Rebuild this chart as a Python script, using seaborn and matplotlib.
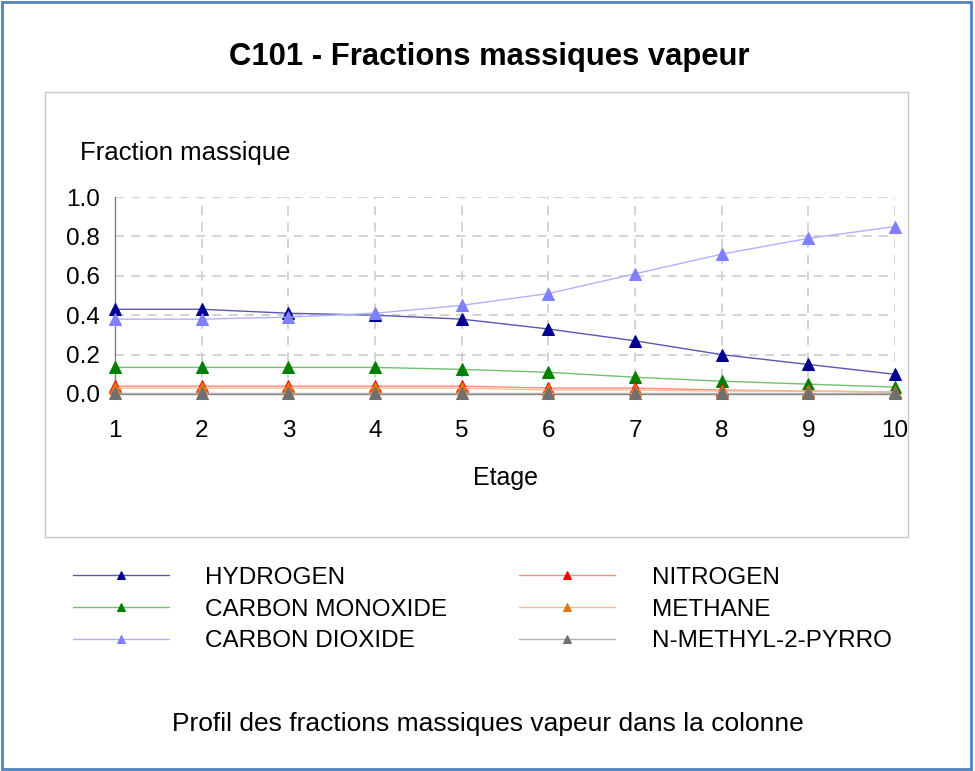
import matplotlib
matplotlib.use("Agg")
import matplotlib.pyplot as plt
import numpy as np
import pandas as pd
import seaborn as sns
from matplotlib.patches import Rectangle
from matplotlib.ticker import MultipleLocator

sns.set_style("white")
plt.rcParams['font.family'] = ['Liberation Sans', 'DejaVu Sans']
plt.rcParams['text.color'] = 'black'
plt.rcParams['xtick.labelcolor'] = 'black'
plt.rcParams['ytick.labelcolor'] = 'black'

stages = [1, 2, 3, 4, 5, 6, 7, 8, 9, 10]
components = ["HYDROGEN", "CARBON MONOXIDE", "CARBON DIOXIDE",
              "NITROGEN", "METHANE", "N-METHYL-2-PYRRO"]
hydrogen = [0.43, 0.43, 0.41, 0.40, 0.38, 0.33, 0.27, 0.20, 0.15, 0.10]
carbon_monoxide = [0.135, 0.135, 0.135, 0.135, 0.125, 0.11, 0.085, 0.065, 0.05, 0.035]
carbon_dioxide = [0.38, 0.38, 0.39, 0.41, 0.45, 0.51, 0.61, 0.71, 0.79, 0.85]
nitrogen = [0.04, 0.04, 0.04, 0.04, 0.04, 0.03, 0.03, 0.02, 0.015, 0.01]
methane = [0.03, 0.03, 0.03, 0.03, 0.03, 0.02, 0.02, 0.015, 0.015, 0.01]
nmp = [0.003, 0.003, 0.003, 0.003, 0.003, 0.003, 0.003, 0.003, 0.003, 0.003]

line_colors = ["#5858b0", "#70c070", "#b0b0ff", "#ff8a80", "#f2c090", "#b0b0b0"]
marker_colors = ["#000090", "#008000", "#8080ff", "#ff0000", "#e07810", "#707070"]

df = pd.DataFrame({"Etage": stages * 6,
                   "Composant": np.repeat(components, len(stages)),
                   "Fraction": hydrogen + carbon_monoxide + carbon_dioxide
                   + nitrogen + methane + nmp})

fig = plt.figure(figsize=(9.75, 7.71), dpi=100)

# outer frame and plot area box
fig.patches.append(Rectangle((0.002, 0.003), 0.994, 0.994, transform=fig.transFigure,
                             fill=False, edgecolor="#4f81bd", linewidth=2))
fig.patches.append(Rectangle((45 / 975, 1 - 537 / 771), 863 / 975, 445 / 771,
                             transform=fig.transFigure, fill=False,
                             edgecolor="#c8c8c8", linewidth=1))

ax = fig.add_axes([115 / 975, 1 - 394 / 771, 780 / 975, 197 / 771])

for comp, lc, mc in zip(components, line_colors, marker_colors):
    sns.lineplot(data=df[df["Composant"] == comp], x="Etage", y="Fraction", ax=ax,
                 color=lc, linewidth=1.0, marker="^", markersize=9,
                 markerfacecolor=mc, markeredgecolor=mc, clip_on=False,
                 label=comp, legend=False, zorder=3)

ax.set_xlim(1, 10)
ax.set_ylim(0, 1)
ax.xaxis.set_major_locator(MultipleLocator(1))
ax.xaxis.set_minor_locator(MultipleLocator(0.5))
ax.yaxis.set_major_locator(MultipleLocator(0.2))
ax.yaxis.set_minor_locator(MultipleLocator(0.1))
ax.set_yticklabels([f"{v:.1f}" for v in ax.get_yticks()])
ax.grid(True, which="major", color="#d0d0d0", linestyle=(0, (5, 4)), linewidth=1.3)
for s in ["top", "right"]:
    ax.spines[s].set_visible(False)
for s in ["left", "bottom"]:
    ax.spines[s].set_color("#808080")
    ax.spines[s].set_linewidth(1.0)
ax.tick_params(axis="y", which="both", direction="inout", color="#808080",
               labelsize=17.5, pad=6)
ax.tick_params(axis="y", which="major", length=10)
ax.tick_params(axis="y", which="minor", length=8)
ax.tick_params(axis="x", which="both", direction="out", length=8, color="#808080",
               labelsize=17.5, pad=19)
ax.tick_params(axis="x", which="major", length=0)
ax.set_xlabel("")
ax.set_ylabel("")

fig.text(80 / 975, 1 - 153 / 771, "Fraction massique", fontsize=18.5, va="center", ha="left")
fig.text(505 / 975, 1 - 478 / 771, "Etage", fontsize=18, va="center", ha="center")
fig.text(489 / 975, 1 - 57 / 771, "C101 - Fractions massiques vapeur", fontsize=22.3,
         fontweight="bold", va="center", ha="center")
fig.text(488 / 975, 1 - 724 / 771, "Profil des fractions massiques vapeur dans la colonne",
         fontsize=19, va="center", ha="center")

handles, labels = ax.get_legend_handles_labels()
fig.legend(handles, labels, ncol=2, loc="upper left",
           bbox_to_anchor=(51 / 975, 1 - 545 / 771), frameon=False, fontsize=17.5,
           handlelength=3.95, handletextpad=1.5, columnspacing=2.95, labelspacing=0.4,
           markerscale=0.7, numpoints=1)

fig.savefig("out.png", dpi=100)
